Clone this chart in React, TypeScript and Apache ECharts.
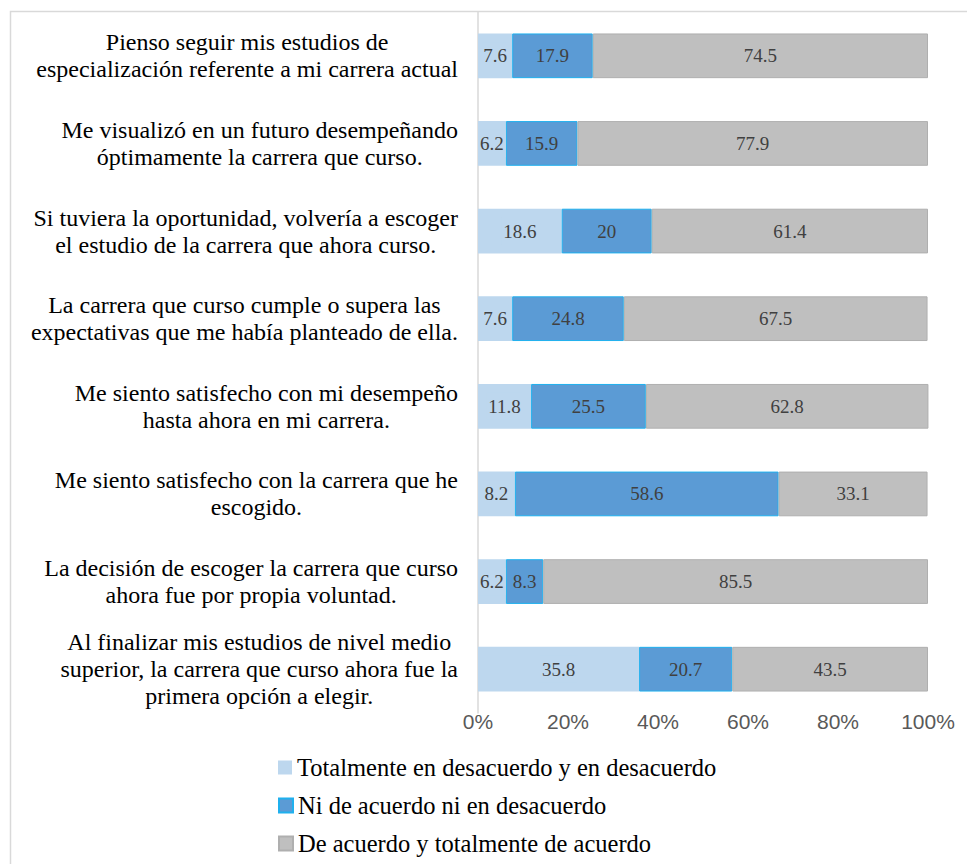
import React, { useEffect, useRef } from "react";
import * as echarts from "echarts";

const categories = [
  "Pienso seguir mis estudios de\nespecialización referente a mi carrera actual",
  "Me visualizó en un futuro desempeñando\nóptimamente la carrera que curso.",
  "Si tuviera la oportunidad, volvería a escoger\nel estudio de la carrera que ahora curso.",
  "La carrera que curso cumple o supera las\nexpectativas que me había planteado de ella.",
  "Me siento satisfecho con mi desempeño\nhasta ahora en mi carrera.",
  "Me siento satisfecho con la carrera que he\nescogido.",
  "La decisión de escoger la carrera que curso\nahora fue por propia voluntad.",
  "Al finalizar mis estudios de nivel medio\nsuperior, la carrera que curso ahora fue la\nprimera opción a elegir.",
];

const seriesNames = [
  "Totalmente en desacuerdo y en desacuerdo",
  "Ni de acuerdo ni en desacuerdo",
  "De acuerdo y totalmente de acuerdo",
];

const desacuerdo = [7.6, 6.2, 18.6, 7.6, 11.8, 8.2, 6.2, 35.8];
const neutral = [17.9, 15.9, 20, 24.8, 25.5, 58.6, 8.3, 20.7];
const acuerdo = [74.5, 77.9, 61.4, 67.5, 62.8, 33.1, 85.5, 43.5];

const xTicks = [0, 20, 40, 60, 80, 100];

const colors = ["#BDD7EE", "#5B9BD5", "#BFBFBF"];
const borders = ["#BDD7EE", "#1FB0EE", "#AFAFAF"];

export default function App() {
  const ref = useRef<HTMLDivElement>(null);
  useEffect(() => {
    if (!ref.current) return;
    const chart = echarts.init(ref.current, null, { renderer: "svg" });
    const serif = "Liberation Serif, Times New Roman, serif";
    const dataSets = [desacuerdo, neutral, acuerdo];
    chart.setOption({
      animation: false,
      backgroundColor: "#ffffff",
      color: colors,
      graphic: [
        {
          type: "rect",
          shape: { x: 10.5, y: 11.5, width: 970, height: 900 },
          style: { fill: "none", stroke: "#D9D9D9", lineWidth: 1.5 },
          silent: true,
        },
      ],
      grid: { left: 478, right: 39, top: 12, bottom: 151, containLabel: false },
      xAxis: {
        type: "value",
        min: 0,
        max: 100,
        interval: 20,
        axisLine: { show: false },
        axisTick: { show: false },
        splitLine: { show: false },
        axisLabel: {
          formatter: (v: number) => (xTicks.includes(v) ? v + "%" : ""),
          color: "#595959",
          fontSize: 21,
          fontFamily: "Liberation Sans, Arial, sans-serif",
          margin: -2,
        },
      },
      yAxis: {
        type: "category",
        inverse: true,
        data: categories,
        axisLine: { show: true, lineStyle: { color: "#D9D9D9", width: 1.5 } },
        axisTick: { show: false },
        axisLabel: {
          margin: 20,
          align: "right",
          formatter: (v: string) => `{a|${v}}`,
          rich: {
            a: {
              align: "center",
              fontSize: 24,
              lineHeight: 27,
              fontFamily: serif,
              color: "#000000",
            },
          },
        },
      },
      legend: seriesNames.map((n, i) => ({
        orient: "vertical",
        left: 278,
        top: 755 + i * 38,
        itemWidth: 14,
        itemHeight: 14,
        icon: "rect",
        padding: 0,
        textStyle: { fontFamily: serif, fontSize: 24.5, color: "#000000", padding: [0, 0, 0, 0] },
        data: [n],
      })),
      series: dataSets.map((d, i) => ({
        name: seriesNames[i],
        type: "bar",
        stack: "total",
        barWidth: "51%",
        data: d,
        itemStyle: { color: colors[i], borderColor: borders[i], borderWidth: i === 0 ? 0 : 1 },
        label: {
          show: true,
          position: "inside",
          fontFamily: serif,
          fontSize: 19,
          color: "#404040",
          backgroundColor: i === 0 ? "#BDD7EE" : "transparent",
          padding: i === 0 ? [4, 2] : 0,
          formatter: (p: any) => String(p.value),
        },
      })),
    });
    return () => chart.dispose();
  }, []);
  return (
    <div
      ref={ref}
      style={{ position: "absolute", left: 0, top: 0, width: 967, height: 864 }}
    />
  );
}
